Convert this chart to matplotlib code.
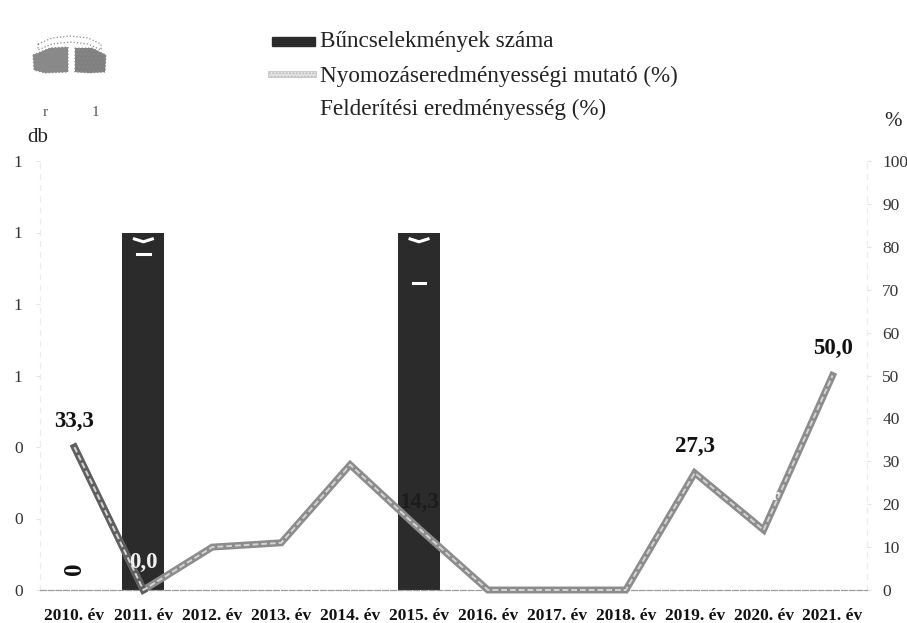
import matplotlib
matplotlib.use('Agg')
import matplotlib.pyplot as plt
from matplotlib.patches import Rectangle, Polygon

years = ['2010. év', '2011. év', '2012. év', '2013. év', '2014. év', '2015. év',
         '2016. év', '2017. év', '2018. év', '2019. év', '2020. év', '2021. év']
crimes = [0, 1, 0, 0, 0, 1, 0, 0, 0, 0, 0, 0]
investigation = [33.3, 0.0, 10.0, 11.0, 29.2, 14.3, 0.0, 0.0, 0.0, 27.3, 14.0, 50.0]
left_ticks = [0, 0.2, 0.4, 0.6, 0.8, 1.0, 1.2]
left_labels = ['0', '0', '0', '1', '1', '1', '1']
right_ticks = list(range(0, 101, 10))

W, H = 907, 623
plt.rcParams['font.family'] = ['Liberation Serif', 'DejaVu Serif']


def fx(x):
    return x / W


def fy(y):
    return 1 - y / H


fig = plt.figure(figsize=(W / 100, H / 100), dpi=100)
ax = fig.add_axes([fx(40), fy(590), fx(867) - fx(40), fy(161) - fy(590)])
ax2 = ax.twinx()
xs = list(range(len(years)))

# bars
ax.bar(xs, crimes, width=0.61, color='#2b2b2b', zorder=2)
ax.set_xlim(-0.5, 11.5)
ax.set_ylim(0, 1.2)
ax.set_yticks(left_ticks)
ax.set_yticklabels(left_labels, fontsize=12.5, color='#333333')
ax.set_xticks(xs)
ax.set_xticklabels(years, fontsize=12.5, fontweight='bold', color='#111111')
ax.tick_params(axis='x', length=0, pad=13)
ax.tick_params(axis='y', length=3, color='#e4e4e4', pad=9.5)

# worn labels on the bars, only white marks are left
for i, v in enumerate(crimes):
    if v == 1:
        ax.plot([i - 0.13, i, i + 0.13], [v - 0.018, v - 0.026, v - 0.018], color='white', lw=2.2, zorder=3)
ax.text(0, 0.06, '0', rotation=90, fontsize=18, fontweight='bold', ha='center', va='center', color='#111111')
ax.plot([1 - 0.09, 1 + 0.09], [0.94, 0.94], color='white', lw=2.2, zorder=3)
ax.plot([5 - 0.09, 5 + 0.09], [0.86, 0.86], color='white', lw=2.2, zorder=3)

# hatched looking line
ax2.set_ylim(0, 100)
ax2.set_yticks(right_ticks)
ax2.set_yticklabels([str(t) for t in right_ticks], fontsize=12.5, color='#333333')
ax2.tick_params(axis='y', length=3, color='#e4e4e4', pad=8)
ax2.plot(xs, investigation, color='#8c8c8c', lw=5, solid_joinstyle='miter', zorder=4, clip_on=False)
ax2.plot(xs[:2], investigation[:2], color='#5f5f5f', lw=5, zorder=4, clip_on=False)
ax2.plot(xs, investigation, color='#d4d4d4', lw=1.4, ls=(0, (3, 1.5)), zorder=5, clip_on=False)

for i, txt, dy, col in [(0, '33,3', 3.6, '#111111'), (1, '0,0', 3.9, '#f0f0f0'), (5, '14,3', 3.6, '#1c1c1c'),
                        (9, '27,3', 3.8, '#111111'), (11, '50,0', 3.9, '#111111')]:
    ax2.text(i, investigation[i] + dy, txt, fontsize=16.5, fontweight='bold', color=col,
             ha='center', va='bottom', zorder=6)
ax2.text(10.17, 22, 'r', fontsize=12, fontweight='bold', color='white', ha='center', va='center', zorder=6)

for a in (ax, ax2):
    a.spines['top'].set_visible(False)
    a.spines['left'].set_color('#ececec')
    a.spines['right'].set_color('#ececec')
    a.spines['left'].set_linestyle((0, (4, 6)))
    a.spines['right'].set_linestyle((0, (4, 6)))
    a.spines['bottom'].set_color('#9a9a9a')
    a.spines['bottom'].set_linestyle((0, (5, 2)))
    a.spines['bottom'].set_linewidth(0.8)

# legend by hand
fig.patches.append(Rectangle((fx(272), fy(46)), 43 / W, 9 / H, transform=fig.transFigure, color='#2b2b2b'))
fig.patches.append(Rectangle((fx(268), fy(77)), 48 / W, 6 / H, transform=fig.transFigure,
                             facecolor='#e4e4e4', edgecolor='#bbbbbb', lw=0.5, hatch='.....'))
fig.text(fx(320), fy(42), 'Bűncselekmények száma', fontsize=16.7, color='#222222', va='center')
fig.text(fx(320), fy(76), 'Nyomozáseredményességi mutató (%)', fontsize=16.7, color='#222222', va='center')
fig.text(fx(320), fy(109), 'Felderítési eredményesség (%)', fontsize=16.7, color='#222222', va='center')
fig.text(fx(38), fy(137), 'db', fontsize=15, color='#222222', ha='center', va='center')
fig.text(fx(893), fy(122), '%', fontsize=15, color='#222222', ha='center', va='center')

# faded emblem in the corner
blob1 = [(33, 55), (50, 48), (68, 47), (68, 72), (45, 73), (34, 70)]
blob2 = [(75, 48), (92, 48), (106, 55), (105, 72), (90, 73), (75, 72)]
arc = [(38, 44), (52, 38), (70, 36), (88, 38), (101, 44), (101, 50), (88, 44), (70, 42), (52, 44), (38, 50)]
for pts, fc in [(blob1, '#8a8a8a'), (blob2, '#808080'), (arc, '#ffffff')]:
    poly = Polygon([(fx(x), fy(y)) for x, y in pts], closed=True, transform=fig.transFigure,
                   facecolor=fc, edgecolor='#888888', lw=0.9, ls=':', hatch='....' if fc != '#ffffff' else None)
    fig.patches.append(poly)
fig.text(fx(45), fy(112), 'r', fontsize=11, color='#555555', ha='center', va='center')
fig.text(fx(95), fy(112), '1', fontsize=11, color='#555555', ha='center', va='center')

fig.savefig('out.png', dpi=100)
